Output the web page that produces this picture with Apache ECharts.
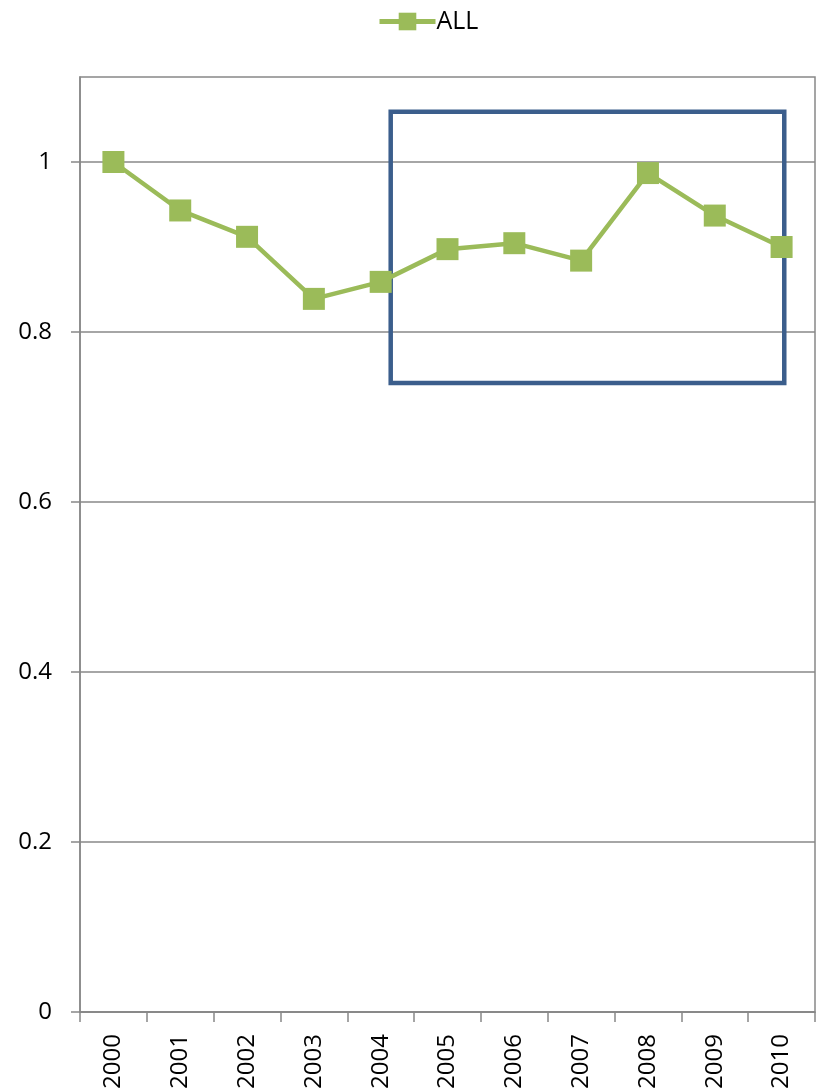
<!DOCTYPE html>
<html>
<head>
<meta charset="utf-8">
<script src="https://cdn.jsdelivr.net/npm/echarts@6/dist/echarts.min.js"></script>
<style>
  html, body { margin: 0; padding: 0; background: #fff; }
  #chart { width: 821px; height: 1092px; }
</style>
</head>
<body>
<div id="chart"></div>
<script>
const years = ["2000", "2001", "2002", "2003", "2004", "2005", "2006", "2007", "2008", "2009", "2010"]
const allValues = [1.0, 0.943, 0.912, 0.839, 0.859, 0.8975, 0.9045, 0.884, 0.987, 0.937, 0.900]
const yTicks = [0, 0.2, 0.4, 0.6, 0.8, 1]
// highlight box, in data units (x: category index, y: value)
const boxX = [4.15, 10.04]
const boxY = [0.740, 1.059]

const chart = echarts.init(document.getElementById("chart"))
const font = "Open Sans"

const option = {
    animation: false,
    textStyle: { fontFamily: font },
    legend: {
        top: 4,
        left: 372,
        itemWidth: 56,
        itemHeight: 22,
        itemGap: 4,
        lineStyle: { width: 5 },
        textStyle: { fontSize: 25, color: "#000", fontFamily: font, padding: [0, 0, 0, -4] },
        data: ["ALL"]
    },
    grid: {
        left: 80,
        right: 6,
        top: 77,
        bottom: 79,
        show: true,
        borderColor: "#888",
        borderWidth: 1.5
    },
    xAxis: [
        {
            type: "category",
            data: years,
            boundaryGap: true,
            axisLine: { lineStyle: { color: "#888", width: 1.5 } },
            axisTick: { show: true, length: 10, lineStyle: { color: "#888", width: 1.5 } },
            axisLabel: { rotate: 90, fontSize: 24, color: "#000", margin: 22, fontFamily: font }
        },
        {
            type: "value",
            min: -0.5,
            max: 10.5,
            show: false
        }
    ],
    yAxis: {
        type: "value",
        min: 0,
        max: 1.1,
        interval: 0.2,
        axisLine: { show: true, onZero: false, lineStyle: { color: "#888", width: 1.5 } },
        axisTick: { show: true, length: 9, customValues: yTicks, lineStyle: { color: "#888", width: 1.5 } },
        splitLine: { lineStyle: { color: "#888", width: 1.5 } },
        axisLabel: {
            fontSize: 24,
            color: "#000",
            margin: 28,
            fontFamily: font,
            customValues: yTicks,
            formatter: (v) => String(+v.toFixed(1))
        }
    },
    series: [
        {
            name: "ALL",
            type: "line",
            data: allValues,
            symbol: "rect",
            symbolSize: 22,
            itemStyle: { color: "#9bbb59" },
            lineStyle: { color: "#9bbb59", width: 4.5 },
            z: 3
        },
        {
            name: "box",
            type: "line",
            xAxisIndex: 1,
            data: [],
            markArea: {
                silent: true,
                itemStyle: { color: "rgba(0,0,0,0)", borderColor: "#3b5e8c", borderWidth: 4.5 },
                data: [[{ coord: [boxX[0], boxY[1]] }, { coord: [boxX[1], boxY[0]] }]]
            },
            z: 4
        }
    ]
}

option && chart.setOption(option)
</script>
</body>
</html>
